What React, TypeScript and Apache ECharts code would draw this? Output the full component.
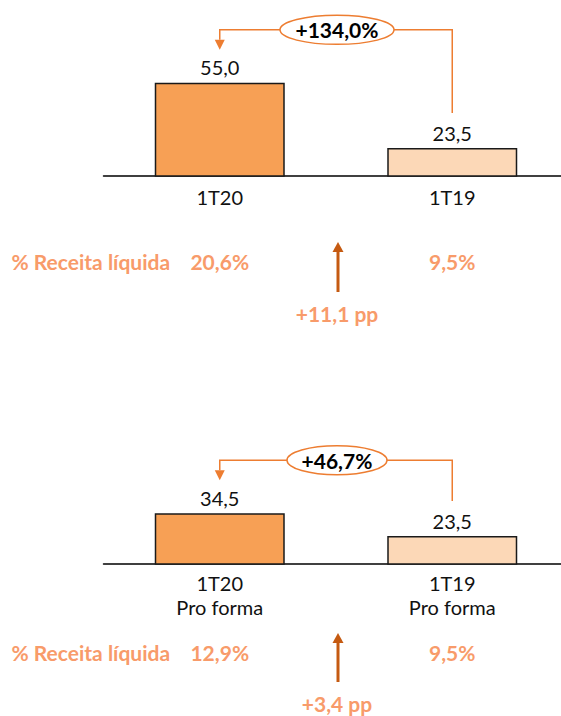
import React, { useEffect, useRef } from 'react';
import * as echarts from 'echarts';

// ---- data ----
const categoriesTop = ['1T20', '1T19'];
const valuesTop = [55.0, 23.5];
const marginTop = ['20,6%', '9,5%'];
const growthTop = '+134,0%';
const marginDeltaTop = '+11,1 pp';

const categoriesBottom = ['1T20\nPro forma', '1T19\nPro forma'];
const valuesBottom = [34.5, 23.5];
const marginBottom = ['12,9%', '9,5%'];
const growthBottom = '+46,7%';
const marginDeltaBottom = '+3,4 pp';

const rowLabel = '% Receita líquida';

// ---- styles / layout ----
const FONT = 'Lato, "Open Sans", sans-serif';
const BAR_COLORS = ['#F7A055', '#FCD8B7'];
const LINE_ORANGE = '#ED7D31';
const ARROW_DARK = '#C55A11';
const SALMON = '#F89B6A';

const panels = [
  { top: 72.5, catMargin: 9, pctMargin: 73.5, rx: 57, rowY: 261, tip: 242, bottom: 292, deltaY: 313 },
  { top: 460.5, catMargin: 7, pctMargin: 76.5, rx: 50, rowY: 652, tip: 633, bottom: 682, deltaY: 703 },
];

const fmt = (v: number) => v.toFixed(1).replace('.', ',');

export default function App() {
  const ref = useRef<HTMLDivElement>(null);

  useEffect(() => {
    document.body.style.margin = '0';
    if (!ref.current) return;
    const chart = echarts.init(ref.current, undefined, { renderer: 'svg' });

    const datasets = [
      { cats: categoriesTop, vals: valuesTop, pct: marginTop },
      { cats: categoriesBottom, vals: valuesBottom, pct: marginBottom },
    ];

    const grid = panels.map((p) => ({ left: 103.5, width: 465, top: p.top, height: 103.5 }));

    const xAxis: any[] = [];
    const yAxis: any[] = [];
    const series: any[] = [];
    datasets.forEach((d, i) => {
      xAxis.push({
        type: 'category',
        gridIndex: i,
        data: d.cats,
        position: 'bottom',
        axisLine: { show: true, onZero: false, lineStyle: { color: '#000', width: 1.5 } },
        axisTick: { show: false },
        axisLabel: {
          margin: panels[i].catMargin,
          fontFamily: FONT,
          fontSize: 20,
          lineHeight: 24,
          color: '#111',
        },
      });
      xAxis.push({
        type: 'category',
        gridIndex: i,
        data: d.pct,
        position: 'bottom',
        axisLine: { show: false, onZero: false },
        axisTick: { show: false },
        axisLabel: {
          margin: panels[i].pctMargin,
          fontFamily: FONT,
          fontSize: 21,
          fontWeight: 'bold',
          lineHeight: 23,
          color: SALMON,
        },
      });
      yAxis.push({ type: 'value', gridIndex: i, min: 10, max: 60, show: false, splitLine: { show: false } });
      series.push({
        type: 'bar',
        xAxisIndex: i * 2,
        yAxisIndex: i,
        barWidth: 130,
        data: d.vals.map((v, k) => ({
          value: v,
          itemStyle: { color: BAR_COLORS[k], borderColor: '#1a1a1a', borderWidth: 1.5 },
        })),
        label: {
          show: true,
          position: 'top',
          distance: 4,
          formatter: (p: any) => fmt(p.value),
          fontFamily: FONT,
          fontSize: 20,
          lineHeight: 23,
          color: '#111',
        },
      });
    });

    chart.setOption({ animation: false, grid, xAxis, yAxis, series });

    const growth = [growthTop, growthBottom];
    const deltas = [marginDeltaTop, marginDeltaBottom];
    const graphic: any[] = [];
    datasets.forEach((d, i) => {
      const p = panels[i];
      const finder = { xAxisIndex: i * 2, yAxisIndex: i };
      const a = chart.convertToPixel(finder, [0, d.vals[0]]) as number[];
      const b = chart.convertToPixel(finder, [1, d.vals[1]]) as number[];
      const mid = (a[0] + b[0]) / 2;
      const ey = a[1] - 53;
      const cx = mid + 1;
      const tipY = a[1] - 33;
      graphic.push(
        {
          type: 'polyline',
          shape: { points: [[cx - p.rx, ey], [a[0], ey], [a[0], tipY - 10]] },
          style: { stroke: LINE_ORANGE, lineWidth: 1.5, fill: null },
        },
        {
          type: 'polygon',
          shape: { points: [[a[0] - 5, tipY - 10], [a[0] + 5, tipY - 10], [a[0], tipY]] },
          style: { fill: LINE_ORANGE },
        },
        {
          type: 'polyline',
          shape: { points: [[cx + p.rx, ey], [b[0], ey], [b[0], b[1] - 35]] },
          style: { stroke: LINE_ORANGE, lineWidth: 1.5, fill: null },
        },
        {
          type: 'ellipse',
          shape: { cx, cy: ey, rx: p.rx, ry: 14.5 },
          style: { fill: '#fff', stroke: LINE_ORANGE, lineWidth: 1.5 },
        },
        {
          type: 'text',
          x: cx,
          y: ey,
          style: {
            text: growth[i],
            align: 'center',
            verticalAlign: 'middle',
            font: `bold 21px ${FONT}`,
            fill: '#000',
          },
        },
        {
          type: 'text',
          x: 11.5,
          y: p.rowY,
          style: {
            text: rowLabel,
            align: 'left',
            verticalAlign: 'middle',
            font: `bold 21px ${FONT}`,
            fill: SALMON,
          },
        },
        {
          type: 'line',
          shape: { x1: mid + 2, y1: p.tip + 10, x2: mid + 2, y2: p.bottom },
          style: { stroke: ARROW_DARK, lineWidth: 3 },
        },
        {
          type: 'polygon',
          shape: { points: [[mid + 2 - 5.5, p.tip + 10], [mid + 2 + 5.5, p.tip + 10], [mid + 2, p.tip]] },
          style: { fill: ARROW_DARK },
        },
        {
          type: 'text',
          x: mid + 1,
          y: p.deltaY,
          style: {
            text: deltas[i],
            align: 'center',
            verticalAlign: 'middle',
            font: `bold 21px ${FONT}`,
            fill: SALMON,
          },
        }
      );
    });

    chart.setOption({ graphic });

    return () => chart.dispose();
  }, []);

  return (
    <div style={{ width: 561, height: 716, overflow: 'hidden' }}>
      <div ref={ref} style={{ width: 572, height: 716 }} />
    </div>
  );
}
